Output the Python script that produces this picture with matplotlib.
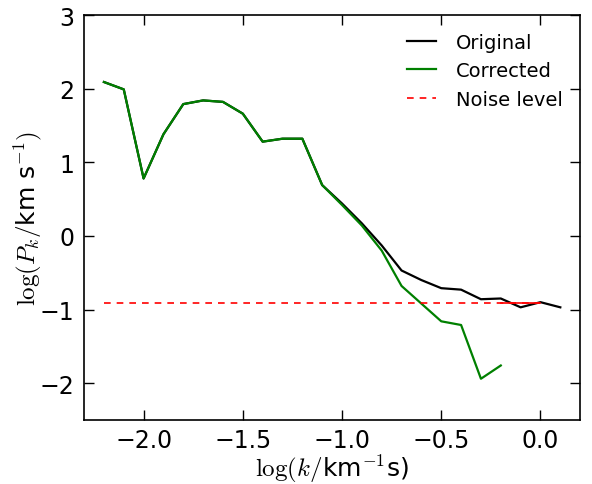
import matplotlib
matplotlib.use("Agg")
import matplotlib.pyplot as plt

# log k values
x_orig = [-2.2, -2.1, -2.0, -1.9, -1.8, -1.7, -1.6, -1.5, -1.4, -1.3, -1.2, -1.1,
          -1.0, -0.9, -0.8, -0.7, -0.6, -0.5, -0.4, -0.3, -0.2, -0.1, 0.0, 0.1]
y_orig = [2.09, 1.99, 0.78, 1.38, 1.79, 1.84, 1.82, 1.66, 1.28, 1.32, 1.32, 0.69,
          0.44, 0.17, -0.13, -0.47, -0.60, -0.71, -0.73, -0.86, -0.85, -0.97, -0.90, -0.97]

x_corr = [-2.2, -2.1, -2.0, -1.9, -1.8, -1.7, -1.6, -1.5, -1.4, -1.3, -1.2, -1.1,
          -1.0, -0.9, -0.8, -0.7, -0.6, -0.5, -0.4, -0.3, -0.2]
y_corr = [2.09, 1.99, 0.78, 1.38, 1.79, 1.84, 1.82, 1.66, 1.28, 1.32, 1.32, 0.69,
          0.42, 0.14, -0.20, -0.68, -0.92, -1.16, -1.21, -1.94, -1.76]

noise = -0.91
noise_x = [-2.2, 0.0]
noise_solid_x = [-0.2, 0.0]

plt.rcParams['mathtext.fontset'] = 'cm'
plt.rcParams['font.family'] = 'DejaVu Sans'

fig = plt.figure(figsize=(5.92, 4.85), dpi=100)
ax = fig.add_axes([0.142, 0.132, 0.838, 0.835])

ax.plot(x_orig, y_orig, color="black", lw=1.6, label="Original")
ax.plot(x_corr, y_corr, color=(0, 0.5, 0), lw=1.6, label="Corrected")
ax.plot(noise_x, [noise, noise], color="red", lw=1.2, dashes=(4, 3.6), label="Noise level")
ax.plot(noise_solid_x, [noise, noise], color="red", lw=1.2)

ax.set_xlim(-2.3, 0.2)
ax.set_ylim(-2.5, 3)
ax.set_xticks([-2.0, -1.5, -1.0, -0.5, 0.0])
ax.set_yticks([-2, -1, 0, 1, 2, 3])
ax.tick_params(direction="in", length=7, width=1, labelsize=17, top=True, right=True)
ax.tick_params(axis="x", pad=6)
ax.tick_params(axis="y", pad=7)
for s in ax.spines.values():
    s.set_linewidth(1.2)

ax.set_xlabel(r'$\log(k/$km$^{-1}$s)', fontsize=18, labelpad=0)
ax.set_ylabel(r'$\log(P_k/$km s$^{-1})$', fontsize=18, labelpad=-3)

ax.legend(loc="upper right", frameon=False, fontsize=14, handlelength=1.5, handletextpad=1.0)

fig.savefig("out.png", dpi=100)
